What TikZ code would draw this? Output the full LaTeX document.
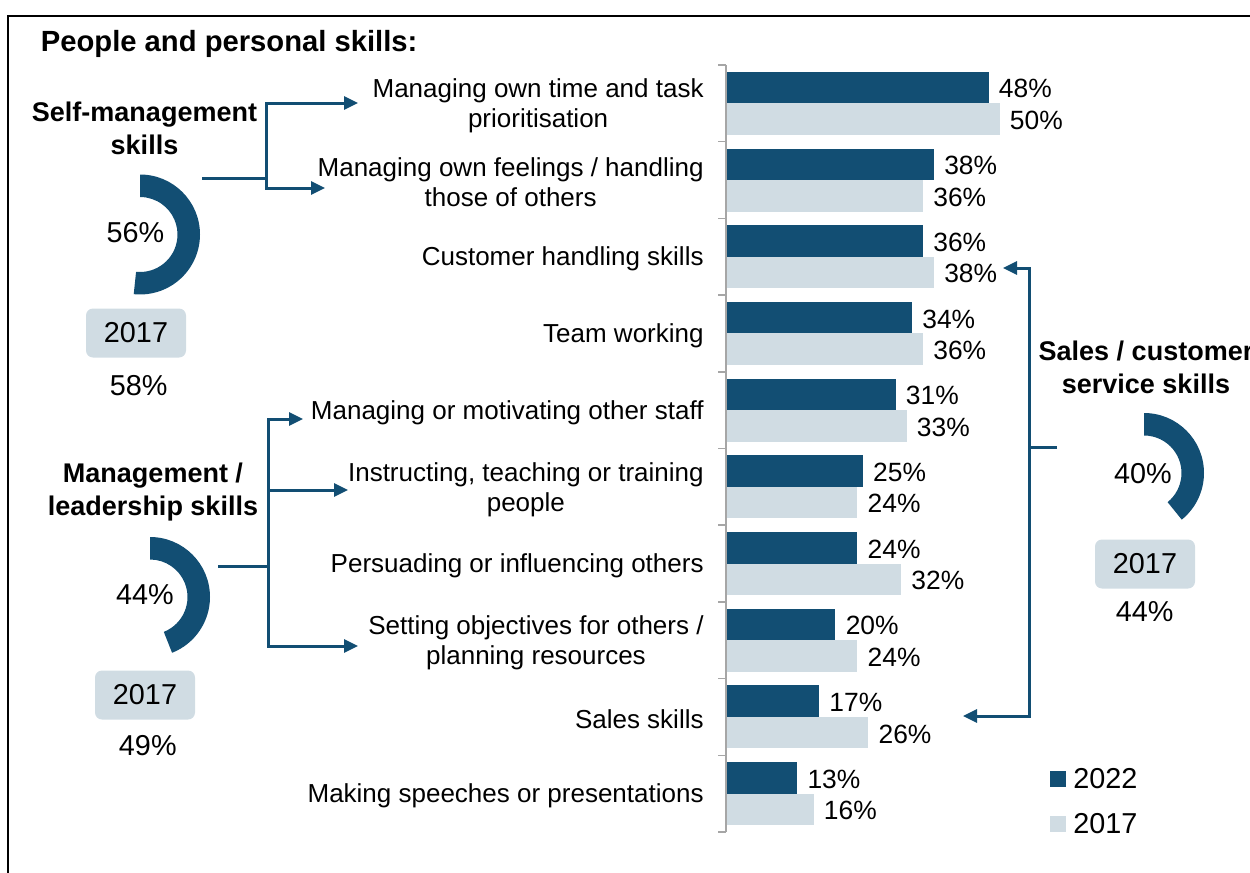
\documentclass[tikz,border=0pt]{standalone}
\usepackage{fontspec}
\setmainfont{Liberation Sans}
\usetikzlibrary{arrows.meta}
\definecolor{skilldark}{RGB}{18,78,115}
\definecolor{skilllight}{RGB}{208,220,227}
\definecolor{axisgrey}{RGB}{166,166,166}
\tikzset{
  catlabel/.style={anchor=east, align=center, inner sep=0pt, font=\fontsize{13}{15}\selectfont},
  vallabel/.style={anchor=west, inner sep=0pt, font=\fontsize{13.2}{15}\selectfont},
  grouplabel/.style={align=center, inner sep=0pt, font=\bfseries\fontsize{13.5}{16.5}\selectfont},
  bignum/.style={inner sep=0pt, font=\fontsize{14.4}{17}\selectfont},
  yearbox/.style={bignum, fill=skilllight, rounded corners=3.5pt, minimum width=50pt, minimum height=24.5pt},
  keybox/.style={inner sep=0pt, minimum size=8pt},
  link/.style={draw=skilldark, line width=1.5pt},
  tip/.style={-{Triangle[length=7pt,width=6.5pt]}},
  tips/.style={{Triangle[length=7pt,width=6.5pt]}-{Triangle[length=7pt,width=6.5pt]}},
}
\begin{document}
\begin{tikzpicture}[x=0.5pt, y=-0.5pt]
  \useasboundingbox (0,0) rectangle (1250,873);
  \draw[line width=1pt] (8,880) -- (8,15.5) -- (1260,15.5);
  \node[anchor=base west, inner sep=0pt, font=\bfseries\fontsize{14.6}{17}\selectfont] (title) at (40.5,51.7) {People and personal skills:};
  % bars
  \foreach \i/\a/\b/\txt in {
      0/48/50/{Managing own time and task\\prioritisation},
      1/38/36/{Managing own feelings / handling\\those of others},
      2/36/38/{Customer handling skills},
      3/34/36/{Team working},
      4/31/33/{Managing or motivating other staff},
      5/25/24/{Instructing, teaching or training\\people},
      6/24/32/{Persuading or influencing others},
      7/20/24/{Setting objectives for others /\\planning resources},
      8/17/26/{Sales skills},
      9/13/16/{Making speeches or presentations}}{
    \pgfmathsetmacro\c{103.35+76.7*\i}
    \fill[skilldark] (726,\c-31.5) rectangle ({726+5.47*\a},\c);
    \fill[skilllight] (726,\c) rectangle ({726+5.47*\b},\c+31.5);
    \node[vallabel] (new\i) at ({736+5.47*\a},\c-14.5) {\a\%};
    \node[vallabel] (old\i) at ({736+5.47*\b},\c+17) {\b\%};
    \node[catlabel] (cat\i) at (704,\c+2.5) {\txt};
  }
  \draw[axisgrey, line width=0.75pt] (726,65) -- (726,832);
  \foreach \k in {0,...,10}
    \draw[axisgrey, line width=0.75pt] (718,{65+76.7*\k}) -- (726,{65+76.7*\k});
  % self-management
  \node[grouplabel] (selfhead) at (144.5,128.5) {Self-management\\skills};
  \fill[skilldark] (140,174.5) arc[start angle=-90, end angle=96, radius=60] -- ++(96:-22.5) arc[start angle=96, end angle=-90, radius=37.5] -- cycle;
  \node[bignum] (selfpct) at (135.5,233) {56\%};
  \node[yearbox] (selfyear) at (136,333) {2017};
  \node[bignum] (selfold) at (138.7,386) {58\%};
  \coordinate (selfout) at (202,178);
  \coordinate (selfjoin) at (266,178);
  \coordinate (selftip1) at (358,103);
  \coordinate (selftip2) at (325,188);
  \draw[link] (selfout) -- (selfjoin);
  \draw[link, tips] (selftip2) -| (selfjoin |- selftip1) -- (selftip1);
  % management
  \node[grouplabel] (mgmthead) at (153,492.5) {Management /\\leadership skills};
  \fill[skilldark] (150,537) arc[start angle=-90, end angle=68.4, radius=60] -- ++(68.4:-22.5) arc[start angle=68.4, end angle=-90, radius=37.5] -- cycle;
  \node[bignum] (mgmtpct) at (145,595) {44\%};
  \node[yearbox] (mgmtyear) at (145,695) {2017};
  \node[bignum] (mgmtold) at (147.8,746) {49\%};
  \coordinate (mgmtout) at (218,566);
  \coordinate (mgmtjoin) at (268,566);
  \coordinate (mgmttip1) at (303,419);
  \coordinate (mgmttip2) at (348,490);
  \coordinate (mgmttip3) at (358,646);
  \draw[link] (mgmtout) -- (mgmtjoin);
  \draw[link, tips] (mgmttip1) -| (mgmtjoin |- mgmttip3) -- (mgmttip3);
  \draw[link, tip] (mgmtjoin |- mgmttip2) -- (mgmttip2);
  % sales / customer service
  \node[grouplabel] (saleshead) at (1146,367.5) {Sales / customer\\service skills};
  \fill[skilldark] (1144,413) arc[start angle=-90, end angle=51, radius=60] -- ++(51:-22.5) arc[start angle=51, end angle=-90, radius=37.5] -- cycle;
  \node[bignum] (salespct) at (1143,474) {40\%};
  \node[yearbox] (salesyear) at (1145,564) {2017};
  \node[bignum] (salesold) at (1144.7,612) {44\%};
  \coordinate (salesout) at (1057,447);
  \coordinate (salesjoin) at (1029,447);
  \coordinate (salestip1) at (1003,268);
  \coordinate (salestip2) at (963,716);
  \draw[link] (salesout) -- (salesjoin);
  \draw[link, tips] (salestip1) -| (salesjoin |- salestip2) -- (salestip2);
  % legend
  \node[keybox, fill=skilldark] (key22box) at (1058,779) {};
  \node[bignum, anchor=west] (key22) at (1073,779) {2022};
  \node[keybox, fill=skilllight] (key17box) at (1058,824) {};
  \node[bignum, anchor=west] (key17) at (1073,824) {2017};
\end{tikzpicture}
\end{document}
